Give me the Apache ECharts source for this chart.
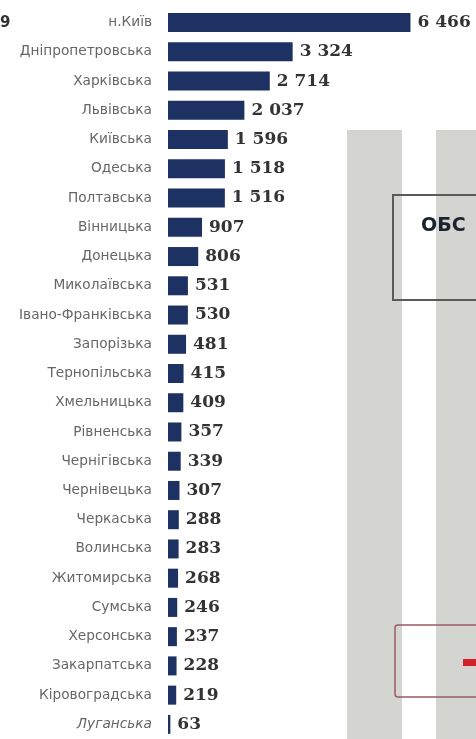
<!DOCTYPE html>
<html><head><meta charset="utf-8">
<script src="https://cdn.jsdelivr.net/npm/echarts@6/dist/echarts.min.js"></script>
<style>html,body{margin:0;padding:0;background:#fff}#c{width:476px;height:739px}</style>
</head><body><div id="c"></div>
<script>
const regions = ["н.Київ","Дніпропетровська","Харківська","Львівська","Київська","Одеська","Полтавська","Вінницька","Донецька","Миколаївська","Івано-Франківська","Запорізька","Тернопільська","Хмельницька","Рівненська","Чернігівська","Чернівецька","Черкаська","Волинська","Житомирська","Сумська","Херсонська","Закарпатська","Кіровоградська","Луганська"];
const values = [6466,3324,2714,2037,1596,1518,1516,907,806,531,530,481,415,409,357,339,307,288,283,268,246,237,228,219,63];

const fmt = v => String(v).replace(/\B(?=(\d{3})+(?!\d))/g, ' ');
const chart = echarts.init(document.getElementById('c'), null, {renderer:'canvas'});
chart.setOption({
  animation:false,
  backgroundColor:'#fff',
  graphic:[
    {type:'rect', z:-10, shape:{x:347,y:130,width:55,height:620}, style:{fill:'#d4d4d0'}},
    {type:'rect', z:-10, shape:{x:436,y:130,width:60,height:620}, style:{fill:'#d4d4d0'}},
    {type:'rect', shape:{x:393,y:195,width:110,height:105}, style:{fill:'none',stroke:'#5a5a5a',lineWidth:2}},
    {type:'text', x:421, y:226, style:{text:'ОБС', fill:'#1a2330', font:'bold 19px "DejaVu Sans"', textVerticalAlign:'middle'}},
    {type:'rect', shape:{x:395,y:625,width:110,height:72,r:3}, style:{fill:'none',stroke:'#9a5a66',lineWidth:1.5}},
    {type:'rect', shape:{x:463,y:659,width:14,height:7}, style:{fill:'#d0202a'}},
    {type:'text', x:0, y:23, style:{text:'9', fill:'#333', font:'bold 15px "DejaVu Sans"', textVerticalAlign:'middle'}}
  ],
  grid:{left:168, top:8, width:300, height:735, containLabel:false},
  xAxis:{type:'value', min:0, max:8000, show:false},
  yAxis:{type:'category', data:regions, inverse:true,
    axisLine:{show:false}, axisTick:{show:false},
    axisLabel:{margin:16, color:'#666', fontFamily:'DejaVu Sans', fontSize:13.7,
      formatter:v => v === 'Луганська' ? '{it|' + v + '}' : v,
      rich:{it:{fontStyle:'italic', color:'#666', fontFamily:'DejaVu Sans', fontSize:13.7}}}},
  series:[{type:'bar', data:values, barWidth:19,
    itemStyle:{color:'#1d3262'},
    label:{show:true, position:'right', distance:7, formatter:p=>fmt(p.value),
      color:'#333', fontFamily:'DejaVu Serif', fontWeight:'bold', fontSize:17}}]
});
</script></body></html>
